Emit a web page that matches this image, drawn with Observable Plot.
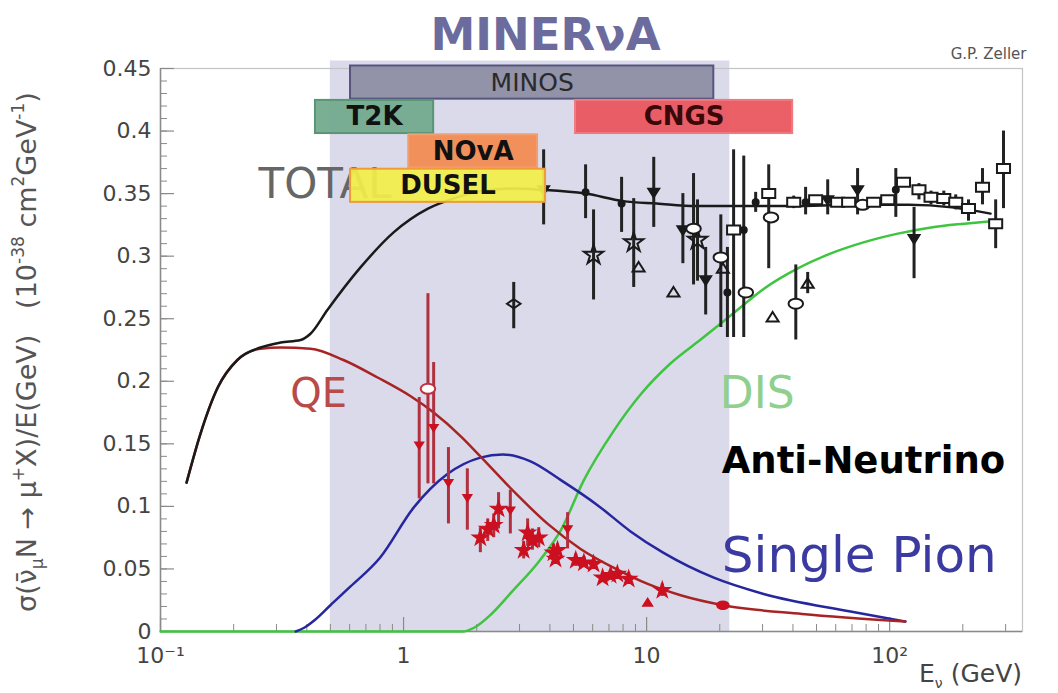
<!DOCTYPE html>
<html><head><meta charset="utf-8">
<script src="https://cdn.jsdelivr.net/npm/d3@7"></script>
<script src="https://cdn.jsdelivr.net/npm/@observablehq/plot@0.6"></script>
<style>html,body{margin:0;padding:0;background:#fff}svg{display:block}</style>
</head><body><div id="chart"></div>
<script>
// ---------- DATA ----------
// Experiment energy ranges (GeV)
const expNames = ["MINOS", "T2K", "CNGS", "NOvA", "DUSEL"];
const expLo    = [0.605, 0.434, 5.1, 1.05, 0.605];
const expHi    = [18.9, 1.33, 39.9, 3.56, 3.84];
const expRow   = [0, 1, 1, 2, 3];
// MINERvA region (GeV)
const bandLo = 0.5, bandHi = 22;

// Theory curves
const totalE = [0.128,0.146,0.172,0.207,0.258,0.312,0.377,0.414,0.486,0.665,0.91,1.26,1.6,2.1,2.8,3.7,5.6,8,11,16,22,40,70,120,180,260];
const totalS = [0.119,0.158,0.195,0.217,0.227,0.231,0.233,0.238,0.257,0.291,0.319,0.338,0.346,0.352,0.354,0.353,0.350,0.344,0.342,0.340,0.340,0.340,0.341,0.341,0.339,0.334];
const qeE = [0.128,0.146,0.172,0.207,0.258,0.312,0.414,0.566,0.782,1.07,1.33,1.72,2.07,2.84,3.92,5.35,7.31,10.1,13.8,20.7,43.6,116];
const qeS = [0.119,0.158,0.195,0.217,0.226,0.227,0.226,0.217,0.203,0.188,0.175,0.156,0.140,0.112,0.086,0.066,0.051,0.038,0.029,0.021,0.014,0.008];
const pionE = [0.36,0.39,0.43,0.5,0.605,0.8,1.1,1.52,2.07,2.56,3.33,4.44,6.28,8.59,11.7,18.9,30.3,69,116];
const pionS = [0,0.003,0.009,0.021,0.036,0.059,0.099,0.126,0.139,0.1415,0.136,0.121,0.101,0.080,0.063,0.043,0.030,0.016,0.008];
const disE = [0.1,1.0,1.75,1.95,2.3,2.8,3.64,4.44,5.52,7.3,9.5,12.5,16.6,22.3,30.4,41.7,57,78,108,148,203,262];
const disS = [0,0,0,0.003,0.014,0.032,0.057,0.081,0.121,0.160,0.190,0.214,0.233,0.253,0.274,0.290,0.302,0.311,0.318,0.323,0.326,0.328];

// Total cross-section measurements
const totPtE  = [2.84,3.77,5.61,6.05,7.89,8.85,9.27,10.7,12.9,14.1,15.6,16.2,17.5,20.2,20.6,21.5,22.8,25.1,25.6,28.1,31.8,32.5,33.0,41.1,46.0,40.3,45.1,49.6,55.6,61.1,67.8,73.8,77.4,85.9,98.2,106,114,126,132,148,167,187,211,241,273,294];
const totPtS  = [0.262,0.353,0.351,0.301,0.342,0.311,0.291,0.351,0.271,0.321,0.322,0.313,0.281,0.299,0.290,0.271,0.321,0.321,0.271,0.343,0.350,0.331,0.251,0.262,0.278,0.343,0.343,0.345,0.345,0.343,0.343,0.353,0.341,0.343,0.345,0.353,0.359,0.314,0.353,0.347,0.346,0.343,0.338,0.355,0.326,0.370];
const totPtLo = [0.242,0.325,0.330,0.265,0.319,0.275,null,0.323,null,0.294,0.277,0.280,0.253,0.243,null,0.235,0.235,0.235,null,0.335,0.290,null,null,0.233,0.270,0.338,0.333,null,0.333,null,null,0.333,null,null,null,0.331,null,0.282,0.345,0.341,0.340,0.337,0.328,0.341,0.306,0.338];
const totPtHi = [0.279,0.385,0.373,0.337,0.363,0.346,null,0.379,null,0.350,0.366,0.345,0.307,0.333,null,0.307,0.385,0.380,null,0.351,0.373,null,null,0.293,0.287,0.348,0.355,null,0.361,null,null,0.370,null,null,null,0.370,null,0.339,0.358,0.352,0.352,0.349,0.345,0.370,0.345,0.400];
const totPtMk  = ["diamond","tridown","dot","star","dot","star","triangle","tridown","triangle","tridown","circle","star","tridown","circle","triangle","dot","square","dot","circle","dot","square","circle","triangle","circle","triangle","square","dot","square","tridown","square","square","tridown","circle","square","square","dot","square","tridown","square","square","square","square","square","square","square","square"];

// Quasi-elastic measurements
const qePtE  = [1.26,1.16,1.33,1.53,1.83,2.07,2.22,2.35,2.46,2.75,3.24,3.39,3.60,3.12,4.14,4.73,4.30,4.22,5.11,5.52,6.05,6.59,7.11,7.58,8.44,10.1,11.6,20.6];
const qePtS  = [0.194,0.149,0.163,0.119,0.107,0.075,0.082,0.085,0.098,0.097,0.079,0.073,0.075,0.065,0.063,0.082,0.065,0.058,0.057,0.055,0.054,0.043,0.045,0.046,0.042,0.023,0.033,0.021];
const qePtLo = [0.118,0.106,0.118,0.086,0.081,0.063,0.072,0.075,0.082,0.078,0.068,0.065,0.067,0.058,0.057,0.066,0.060,0.054,0.052,0.051,0.050,0.039,0.041,0.042,0.038,null,0.028,0.018];
const qePtHi = [0.270,0.187,0.215,0.147,0.130,0.083,0.090,0.094,0.111,0.113,0.090,0.082,0.083,0.072,0.070,0.095,0.070,0.062,0.062,0.060,0.058,0.047,0.049,0.050,0.047,null,0.038,0.024];
const qePtMk = ["circle","tridown","tridown","tridown","tridown","star","star","star","star","tridown","star","star","star","star","star","tridown","star","star","star","star","star","star","star","star","star","triangle","star","circle"];

// Axis ticks
const xTickValues = [0.1, 1, 10, 100];
const xTickLabels = ["10\u207B\u00B9", "1", "10", "10\u00B2"];
const yTickValues = [0, 0.05, 0.1, 0.15, 0.2, 0.25, 0.3, 0.35, 0.4, 0.45];
const yTickLabels = ["0", "0.05", "0.1", "0.15", "0.2", "0.25", "0.3", "0.35", "0.4", "0.45"];

// ---------- BUILD ----------
const W = 1058, H = 693, mL = 160, mR = 36, mT = 68, mB = 62;
const plotW = W - mL - mR, plotH = H - mT - mB;

const zip = (E, S) => E.map((e, i) => ({E: e, s: S[i]}));
const pts = (E, S, Lo, Hi, Mk) => E.map((e, i) => ({E: e, s: S[i], lo: Lo[i], hi: Hi[i], mk: Mk[i]}));
const totalPts = pts(totPtE, totPtS, totPtLo, totPtHi, totPtMk);
const qePts = pts(qePtE, qePtS, qePtLo, qePtHi, qePtMk);

const expStyle = {
  MINOS: {fill: "#8c8ca4", stroke: "#55557e", text: "#2a2a2a"},
  T2K:   {fill: "#70a98c", stroke: "#5a9477", text: "#111"},
  CNGS:  {fill: "#ea535b", stroke: "#f07a80", text: "#3a0808"},
  NOvA:  {fill: "#f28a50", stroke: "#f0a070", text: "#111"},
  DUSEL: {fill: "#f2ee48", stroke: "#f09a3a", text: "#111"}
};
const exps = expNames.map((n, i) => {
  const top = 0.452 - expRow[i] * 0.0275;
  return {name: n, lo: expLo[i], hi: expHi[i], top, bot: top - 0.0265, mid: Math.sqrt(expLo[i] * expHi[i])};
});

// custom symbols
const triDown = {draw(c, size) { const r = Math.sqrt(size / Math.PI); c.moveTo(0, r * 1.1); c.lineTo(r * 1.2, -r * 0.8); c.lineTo(-r * 1.2, -r * 0.8); c.closePath(); }};
const triUp = {draw(c, size) { const r = Math.sqrt(size / Math.PI); c.moveTo(0, -r * 1.1); c.lineTo(r * 1.2, r * 0.8); c.lineTo(-r * 1.2, r * 0.8); c.closePath(); }};
const wideRect = {draw(c, size) { const r = Math.sqrt(size / Math.PI); c.rect(-r * 1.45, -r, r * 2.9, r * 2); }};
const wideEll = {draw(c, size) {
  const r = Math.sqrt(size / Math.PI), a = r * 1.45, b = r, k = 0.5523;
  c.moveTo(a, 0); c.bezierCurveTo(a, b * k, a * k, b, 0, b); c.bezierCurveTo(-a * k, b, -a, b * k, -a, 0);
  c.bezierCurveTo(-a, -b * k, -a * k, -b, 0, -b); c.bezierCurveTo(a * k, -b, a, -b * k, a, 0); c.closePath();
}};
const wideDiamond = {draw(c, size) { const r = Math.sqrt(size / Math.PI); c.moveTo(-r * 1.5, 0); c.lineTo(0, -r); c.lineTo(r * 1.5, 0); c.lineTo(0, r); c.closePath(); }};

const markerDefs = {
  dot:      {symbol: "circle", r: 3, filled: true},
  tridown:  {symbol: triDown, r: 4.5, filled: true},
  star:     {symbol: "star", r: 6, filled: false},
  triangle: {symbol: triUp, r: 5, filled: false},
  circle:   {symbol: wideEll, r: 5, filled: false},
  square:   {symbol: wideRect, r: 4.5, filled: false},
  diamond:  {symbol: wideDiamond, r: 4.5, filled: false}
};
function pointMarks(data, color, filledAll, scale = 1) {
  return Object.entries(markerDefs).map(([k, m]) => {
    const filled = filledAll || m.filled;
    return Plot.dot(data.filter(d => d.mk === k), {
      x: "E", y: "s", symbol: m.symbol, r: m.r * scale,
      fill: filled ? color : (k === "circle" || k === "square" ? "white" : "none"),
      stroke: color, strokeWidth: filledAll ? 1.2 : 2
    });
  });
}

// minor ticks
const xMinor = [];
for (const dec of [0.1, 1, 10, 100]) for (let m = 2; m <= 9; m++) { const v = dec * m; if (v <= 350) xMinor.push(v); }
const yMinor = d3.range(0, 46).map(i => i / 100);

const FONT = "DejaVu Sans";
const CURVE = "monotone-x";

const chart = Plot.plot({
  width: W, height: H,
  marginLeft: mL, marginRight: mR, marginTop: mT, marginBottom: mB,
  style: {fontFamily: FONT, background: "white", color: "#444", overflow: "visible"},
  x: {type: "log", domain: [0.1, 352], label: null},
  y: {domain: [0, 0.45], label: null},
  marks: [
    // MINERvA band
    Plot.rect([0], {x1: bandLo, x2: bandHi, y1: 0, y2: 0.456, fill: "#dadaea"}),
    Plot.frame({stroke: "#c4c4c4", strokeWidth: 1.2}),
    Plot.ruleX([0.1], {stroke: "#8a8a8a", strokeWidth: 1.5}),
    Plot.ruleY([0], {stroke: "#8a8a8a", strokeWidth: 1.5}),
    // inward ticks
    Plot.tickY(yMinor, {y: d => d, insetRight: plotW - 7, stroke: "#8a8a8a", strokeWidth: 1}),
    Plot.tickY(yTickValues, {y: d => d, insetRight: plotW - 14, stroke: "#8a8a8a", strokeWidth: 1.2}),
    Plot.tickX(xMinor, {x: d => d, insetTop: plotH - 7, stroke: "#8a8a8a", strokeWidth: 1}),
    Plot.tickX(xTickValues, {x: d => d, insetTop: plotH - 14, stroke: "#8a8a8a", strokeWidth: 1.2}),
    Plot.axisY(yTickValues, {tickSize: 0, tickPadding: 9, fontSize: 22, color: "#444", label: null,
      tickFormat: d => yTickLabels[yTickValues.indexOf(d)]}),
    Plot.axisX(xTickValues, {tickSize: 0, tickPadding: 16, fontSize: 22, color: "#444", label: null,
      tickFormat: d => xTickLabels[xTickValues.indexOf(d)]}),

    // labels behind boxes
    Plot.text(["TOTAL"], {x: 0.253, y: 0.357, text: d => d, textAnchor: "start", fontSize: 42, fill: "#666", fontFamily: FONT}),
    Plot.text(["QE"], {x: 0.447, y: 0.19, text: d => d, fontSize: 40, fill: "#b84a4a", fontFamily: FONT}),
    Plot.text(["DIS"], {x: 28.5, y: 0.19, text: d => d, fontSize: 44, fill: "#8fd08f", fontFamily: FONT}),
    Plot.text(["Anti-Neutrino"], {x: 78, y: 0.136, text: d => d, fontSize: 37, fontWeight: "bold", fill: "#000", fontFamily: FONT}),
    Plot.text(["Single Pion"], {x: 75, y: 0.06, text: d => d, fontSize: 50, fill: "#3a3aa0", fontFamily: FONT}),

    // curves
    Plot.line(zip(disE, disS), {x: "E", y: "s", curve: CURVE, stroke: "#3ec43e", strokeWidth: 2.5}),
    Plot.line(zip(pionE, pionS), {x: "E", y: "s", curve: CURVE, stroke: "#26269e", strokeWidth: 2.5}),
    Plot.line(zip(qeE, qeS), {x: "E", y: "s", curve: CURVE, stroke: "#a82424", strokeWidth: 2.5}),
    Plot.line(zip(totalE, totalS), {x: "E", y: "s", curve: CURVE, stroke: "#1a1a1a", strokeWidth: 2.5}),

    // QE data
    Plot.ruleX(qePts.filter(d => d.lo != null), {x: "E", y1: "lo", y2: "hi", stroke: "#b0303e", strokeWidth: 3}),
    ...pointMarks(qePts.filter(d => d.E !== 1.26), "#cc1020", true, 0.85),
    ...pointMarks(qePts.filter(d => d.E === 1.26), "#c03040", false),

    // total data
    Plot.ruleX(totalPts.filter(d => d.lo != null), {x: "E", y1: "lo", y2: "hi", stroke: "#222", strokeWidth: 3}),
    ...pointMarks(totalPts, "#1a1a1a", false),

    // experiment boxes
    Plot.rect(exps, {x1: "lo", x2: "hi", y1: "bot", y2: "top",
      fill: d => expStyle[d.name].fill, stroke: d => expStyle[d.name].stroke, strokeWidth: 2, fillOpacity: 0.93}),
    Plot.text(exps.filter(d => d.name === "MINOS"), {x: "mid", y: d => (d.top + d.bot) / 2, text: "name", fontSize: 25,
      fill: d => expStyle[d.name].text, fontFamily: FONT}),
    Plot.text(exps.filter(d => d.name !== "MINOS"), {x: "mid", y: d => (d.top + d.bot) / 2, text: "name", fontSize: 26,
      fontWeight: "bold", fill: d => expStyle[d.name].text, fontFamily: FONT}),

    // title & credit
    Plot.text(["MINER\u03BDA"], {frameAnchor: "top", dx: -46, dy: -50, text: d => d, fontSize: 45, fontWeight: "bold", fill: "#6b6b9e", fontFamily: FONT}),
    Plot.text(["G.P. Zeller"], {frameAnchor: "top-right", dx: 4, dy: -20, textAnchor: "end", text: d => d, fontSize: 15, fill: "#555", fontFamily: FONT})
  ]
});

// axis titles with sub/superscripts
const svg = d3.select(chart);
const yl = svg.append("text")
  .attr("transform", "translate(36,352) rotate(-90)")
  .attr("text-anchor", "middle").attr("font-family", FONT).attr("font-size", 27).attr("fill", "#555");
const parts = [
  ["\u03C3(\u03BD\u0304", 0, 27], ["\u03BC", 7, 17], ["N \u2192 \u03BC", -7, 27], ["+", -12, 17], ["X)/E(GeV)   (10", 12, 27],
  ["-38", -12, 17], [" cm", 12, 27], ["2", -12, 17], ["GeV", 12, 27], ["-1", -12, 17], [")", 12, 27]
];
for (const [t, dy, fs] of parts) yl.append("tspan").attr("dy", dy).attr("font-size", fs).text(t);

const xl = svg.append("text")
  .attr("x", 1022).attr("y", 682).attr("text-anchor", "end")
  .attr("font-family", FONT).attr("font-size", 25).attr("fill", "#444");
xl.append("tspan").text("E");
xl.append("tspan").attr("dy", 6).attr("font-size", 14).text("\u03BD");
xl.append("tspan").attr("dy", -6).text(" (GeV)");

document.getElementById("chart").appendChild(chart);
</script></body></html>
